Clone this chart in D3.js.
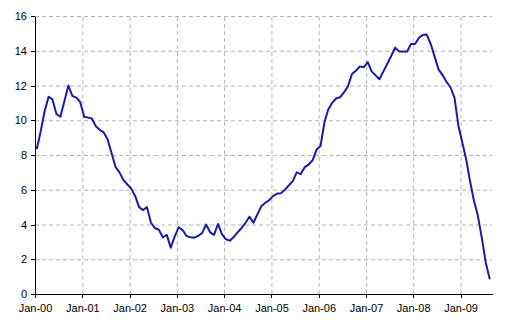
<!DOCTYPE html>
<html>
<head>
<meta charset="utf-8">
<script src="https://cdn.jsdelivr.net/npm/d3@7"></script>
<style>
  body { margin: 0; background: #fff; }
  svg { display: block; font-family: Arial, "Liberation Sans", sans-serif; }
  .grid line { stroke: #b4b4b4; stroke-dasharray: 4,3; }
  .grid path { display: none; }
  .axis path, .axis line { stroke: #000; shape-rendering: crispEdges; }
  .axis text { fill: #000; font-size: 11px; }
</style>
</head>
<body>
<div id="chart"><svg></svg></div>
<script>
const margin = { top: 16, right: 23, bottom: 42, left: 35 },
      width = 515 - margin.left - margin.right,
      height = 336 - margin.top - margin.bottom;

// monthly values, Jan 2000 .. Aug 2009
const startYear = 2000;
const values = [
  // 2000
  8.35, 9.4, 10.5, 11.35, 11.2, 10.35, 10.2, 11.1, 12.0, 11.4, 11.3, 11.05,
  // 2001
  10.2, 10.15, 10.1, 9.65, 9.45, 9.3, 8.9, 8.1, 7.3, 7.0, 6.55, 6.3,
  // 2002
  6.05, 5.6, 5.0, 4.83, 5.0, 4.1, 3.8, 3.7, 3.26, 3.4, 2.67, 3.3,
  // 2003
  3.84, 3.68, 3.35, 3.26, 3.24, 3.35, 3.5, 4.0, 3.55, 3.4, 4.03, 3.45,
  // 2004
  3.15, 3.07, 3.28, 3.55, 3.8, 4.1, 4.45, 4.1, 4.6, 5.05, 5.25, 5.4,
  // 2005
  5.65, 5.78, 5.8, 6.0, 6.25, 6.5, 7.0, 6.9, 7.3, 7.45, 7.7, 8.3,
  // 2006
  8.52, 9.9, 10.6, 11.0, 11.25, 11.32, 11.6, 11.95, 12.66, 12.85, 13.1, 13.05,
  // 2007
  13.35, 12.8, 12.6, 12.36, 12.8, 13.25, 13.7, 14.18, 13.95, 13.95, 13.95, 14.39,
  // 2008
  14.39, 14.75, 14.9, 14.93, 14.4, 13.66, 12.93, 12.6, 12.2, 11.9, 11.3, 9.7,
  // 2009
  8.7, 7.7, 6.5, 5.35, 4.5, 3.2, 1.8, 0.85
];
const yTicks = [0, 2, 4, 6, 8, 10, 12, 14, 16];
const xTickYears = [2000, 2001, 2002, 2003, 2004, 2005, 2006, 2007, 2008, 2009];

const data = values.map((v, i) => ({
  date: new Date(startYear + Math.floor(i / 12), i % 12, 15),
  value: v
}));

const svg = d3.select("#chart svg")
    .attr("width", 515)
    .attr("height", 336)
    .append("g")
    .attr("transform", `translate(${margin.left},${margin.top})`);

const x = d3.scaleTime()
    .domain([new Date(2000, 0, 1), new Date(2009, 8, 1)])
    .range([0, width]);

const y = d3.scaleLinear()
    .domain([0, 16])
    .range([height, 0]);

const xTicks = xTickYears.map(yr => new Date(yr, 0, 1));

// gridlines
svg.append("g")
   .attr("class", "grid")
   .call(d3.axisLeft(y).tickValues(yTicks.slice(1)).tickSize(-width).tickFormat(""));

svg.append("g")
   .attr("class", "grid")
   .attr("transform", `translate(0,${height})`)
   .call(d3.axisBottom(x).tickValues(xTicks.slice(1)).tickSize(-height).tickFormat(""));

// line
svg.append("path")
   .datum(data)
   .attr("fill", "none")
   .attr("stroke", "#1a1aae")
   .attr("stroke-width", 2)
   .attr("stroke-linejoin", "round")
   .attr("d", d3.line().x(d => x(d.date)).y(d => y(d.value)));

// axes
svg.append("g")
   .attr("class", "axis")
   .call(d3.axisLeft(y).tickValues(yTicks).tickSize(4).tickSizeOuter(0).tickPadding(4));

svg.append("g")
   .attr("class", "axis")
   .attr("transform", `translate(0,${height})`)
   .call(d3.axisBottom(x).tickValues(xTicks).tickSize(4).tickSizeOuter(0).tickPadding(6)
           .tickFormat(d3.timeFormat("%b-%y")));
</script>
</body>
</html>
